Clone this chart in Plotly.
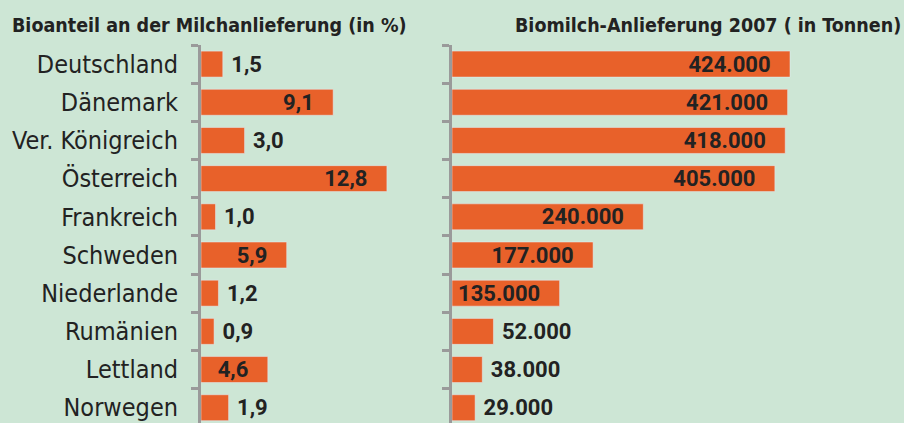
import plotly.graph_objects as go

countries = ["Deutschland", "Dänemark", "Ver. Königreich", "Österreich", "Frankreich",
             "Schweden", "Niederlande", "Rumänien", "Lettland", "Norwegen"]
bio_share = [1.5, 9.1, 3.0, 12.8, 1.0, 5.9, 1.2, 0.9, 4.6, 1.9]
bio_tonnes = [424000, 421000, 418000, 405000, 240000, 177000, 135000, 52000, 38000, 29000]
title_left = "Bioanteil an der Milchanlieferung (in %)"
title_right = "Biomilch-Anlieferung 2007 ( in Tonnen)"

pos_left = ["outside", "inside", "outside", "inside", "outside",
            "inside", "outside", "outside", "inside", "outside"]
pos_right = ["inside"] * 7 + ["outside"] * 3

NB = "\u00a0"


def pad(label, pos):
    # small non-breaking padding so labels sit a little away from the bar end
    return label + NB * 3 if pos == "inside" else NB + label


share_labels = [pad(f"{v:.1f}".replace(".", ","), p) for v, p in zip(bio_share, pos_left)]
tonne_labels = [pad(f"{v:,}".replace(",", "."), p) for v, p in zip(bio_tonnes, pos_right)]

BG = "#CDE6D5"
ORANGE = "#E8612A"
GREY = "#9A9A9A"
COND = "DejaVu Sans Condensed"
VALF = "Roboto"
TXT = "#222222"

fig = go.Figure()
fig.add_trace(go.Bar(
    y=countries, x=bio_share, orientation="h", marker_color=ORANGE,
    text=share_labels, textposition=pos_left, insidetextanchor="end",
    textfont=dict(family=VALF, size=22, color=TXT, weight="bold"),
    constraintext="none",
    cliponaxis=False, xaxis="x", yaxis="y", showlegend=False))
fig.add_trace(go.Bar(
    y=countries, x=bio_tonnes, orientation="h", marker_color=ORANGE,
    text=tonne_labels, textposition=pos_right, insidetextanchor="end",
    textfont=dict(family=VALF, size=22, color=TXT, weight="bold"),
    constraintext="none",
    cliponaxis=False, xaxis="x2", yaxis="y2", showlegend=False))

ytop = (423 - 45) / 423
yax = dict(type="category", autorange=False, range=[9.4, -0.5],
           showline=True, linecolor=GREY, linewidth=3,
           ticks="outside", tickson="boundaries", ticklen=7, tickwidth=3,
           tickcolor=GREY, showgrid=False, zeroline=False,
           domain=[0, ytop])
fig.update_layout(
    width=904, height=423, margin=dict(l=0, r=0, t=0, b=0),
    paper_bgcolor=BG, plot_bgcolor=BG, bargap=0.32,
    font=dict(family=COND, color=TXT),
    xaxis=dict(domain=[201 / 904, 445 / 904], range=[0, 16.8], visible=False),
    xaxis2=dict(domain=[452 / 904, 1], range=[0, 567000], visible=False),
    yaxis=dict(**yax, anchor="x", tickfont=dict(family=COND, size=25, color=TXT),
               ticklabelstandoff=15),
    yaxis2=dict(**yax, anchor="x2", showticklabels=False),
    annotations=[
        dict(text=title_left, x=10 / 904, y=1 - 26 / 423, xref="paper", yref="paper",
             xanchor="left", yanchor="middle", showarrow=False,
             font=dict(family=COND, size=19.5, color=TXT, weight="bold")),
        dict(text=title_right, x=903 / 904, y=1 - 26 / 423, xref="paper", yref="paper",
             xanchor="right", yanchor="middle", showarrow=False,
             font=dict(family=COND, size=19.5, color=TXT, weight="bold")),
    ],
)

fig.write_html("out.html", config={"displayModeBar": False},
               post_script="document.body.style.margin='0';")
